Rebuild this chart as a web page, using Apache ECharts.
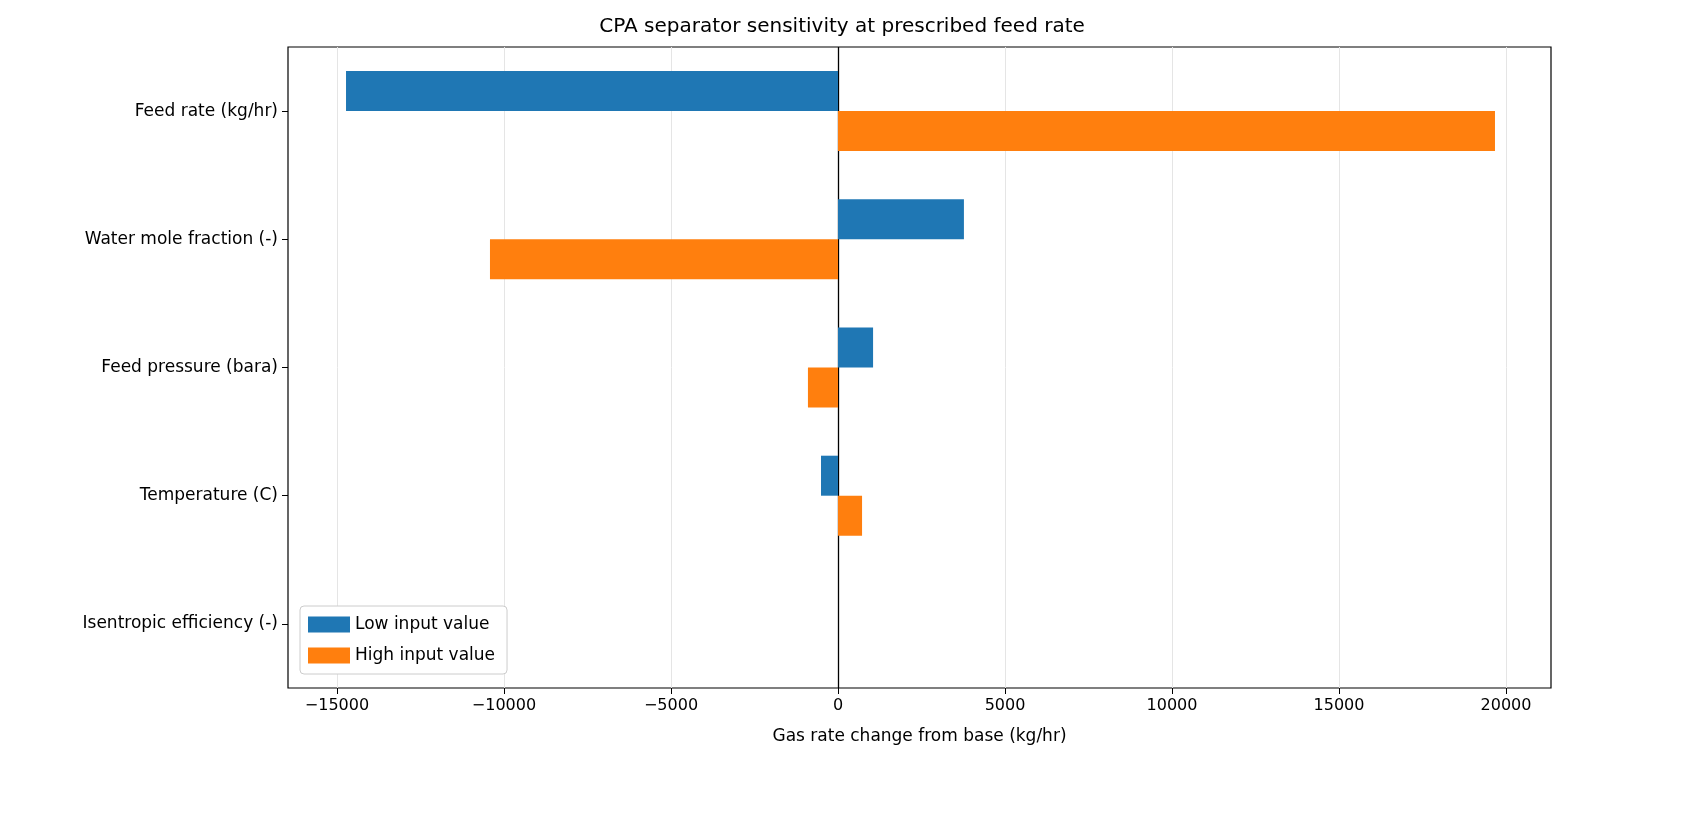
<!DOCTYPE html>
<html><head><meta charset="utf-8">
<script src="https://cdn.jsdelivr.net/npm/echarts@6/dist/echarts.min.js"></script>
<style>html,body{margin:0;padding:0;background:#fff}#c{width:1684px;height:831px}</style>
</head><body><div id="c"></div>
<script>
const categories = ['Feed rate (kg/hr)','Water mole fraction (-)','Feed pressure (bara)','Temperature (C)','Isentropic efficiency (-)'];
const lowValues = [-14730, 3770, 1050, -510, 0];
const highValues = [19670, -10420, -900, 720, 0];
const tickValues = [-15000,-10000,-5000,0,5000,10000,15000,20000];
const font = 'DejaVu Sans';
const chart = echarts.init(document.getElementById('c'));
const grid = tickValues.filter(v=>v!==0).map(v=>({xAxis:v, lineStyle:{color:'#e5e5e5',width:1,type:'solid'}}));
grid.push({xAxis:0, lineStyle:{color:'#000',width:1.3,type:'solid'}});
chart.setOption({
  animation:false,
  title:{text:'CPA separator sensitivity at prescribed feed rate',left:'center',top:12,
    textStyle:{fontFamily:font,fontSize:20,fontWeight:'normal',color:'#000'}},
  grid:{left:288,right:1684-1551,top:47,bottom:831-688,containLabel:false,show:true,borderColor:'#000',borderWidth:1.2,backgroundColor:'transparent'},
  legend:{left:300,top:606,orient:'vertical',icon:'rect',itemWidth:42,itemHeight:16,itemGap:14,padding:[10,12,10,8],
    borderColor:'#ccc',borderWidth:1,borderRadius:4,backgroundColor:'#fff',
    textStyle:{fontFamily:font,fontSize:17,color:'#000'},data:['Low input value','High input value']},
  xAxis:{type:'value',min:-16467,max:21347,
    axisLine:{show:false},splitLine:{show:false},
    axisTick:{show:true,customValues:tickValues,length:6,lineStyle:{color:'#000'}},
    axisLabel:{customValues:tickValues,fontFamily:font,fontSize:16,color:'#000',margin:10,
      formatter:v=>String(v).replace('-','\u2212')},
    name:'Gas rate change from base (kg/hr)',nameLocation:'middle',nameGap:40,
    nameTextStyle:{fontFamily:font,fontSize:17,color:'#000'}},
  yAxis:{type:'category',data:categories,inverse:true,
    axisLine:{show:false,onZero:false},axisTick:{show:true,alignWithLabel:true,length:6,lineStyle:{color:'#000'}},
    axisLabel:{fontFamily:font,fontSize:17,color:'#000',margin:10}},
  series:[
    {name:'Low input value',type:'bar',data:lowValues,barWidth:40,barGap:'0%',itemStyle:{color:'#1f77b4'},
     markLine:{silent:true,symbol:'none',label:{show:false},data:grid,z:1}},
    {name:'High input value',type:'bar',data:highValues,barWidth:40,barGap:'0%',itemStyle:{color:'#ff7f0e'}}
  ]
});
</script></body></html>
